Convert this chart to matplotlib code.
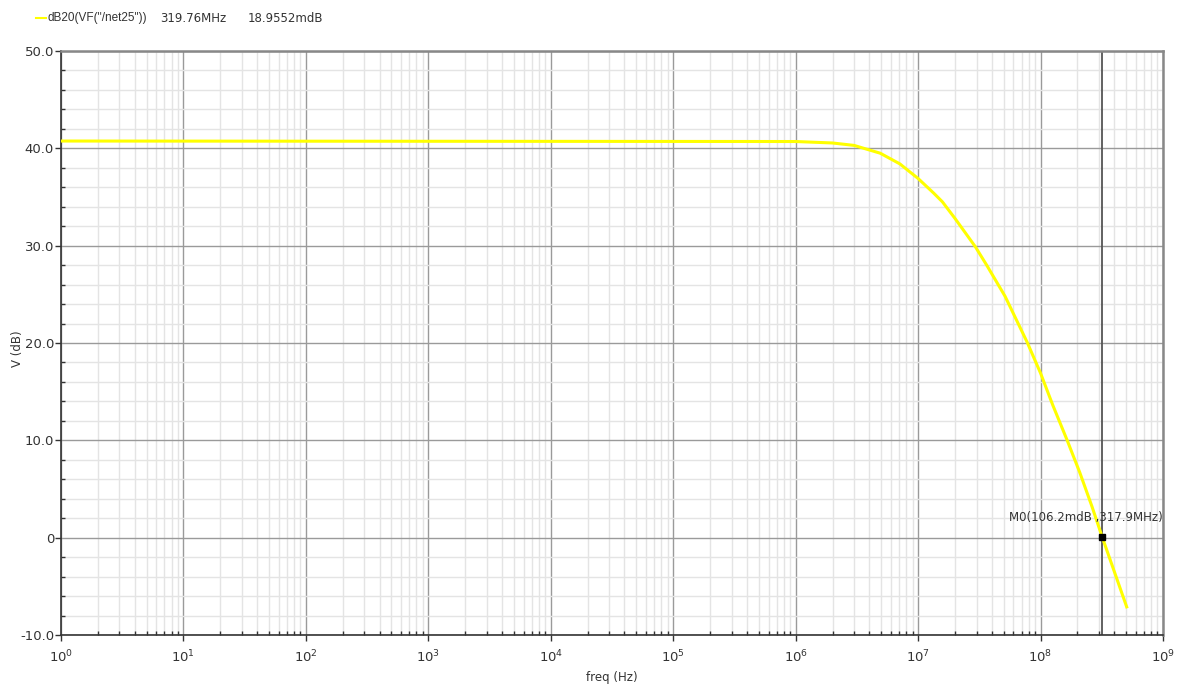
import matplotlib
matplotlib.use("Agg")
import matplotlib.pyplot as plt
from matplotlib.ticker import LogLocator, MultipleLocator, FixedLocator, FixedFormatter
import matplotlib.transforms as mtransforms

freq_hz = [1, 1e6, 2e6, 3e6, 4.9e6, 7.1e6, 1e7, 1.34e7, 1.58e7, 2e7, 2.93e7,
           3.63e7, 5.13e7, 7.76e7, 1e8, 1.26e8, 1.65e8, 2.09e8, 2.63e8, 3.179e8, 5.1e8]
gain_db = [40.75, 40.7, 40.55, 40.3, 39.5, 38.4, 36.9, 35.4, 34.5, 32.8, 29.9,
           28.0, 24.8, 20.1, 16.9, 13.6, 10.0, 6.7, 3.2, 0.106, -7.26]

marker_freq = 317.9e6
marker_db = 0.1062
marker_label = "M0(106.2mdB ,317.9MHz)"
trace_name = 'dB20(VF("/net25"))'
cursor_freq_text = "319.76MHz"
cursor_val_text = "18.9552mdB"

y_ticks = [-10, 0, 10, 20, 30, 40, 50]
y_tick_labels = ["-10.0", "0", "10.0", "20.0", "30.0", "40.0", "50.0"]

fig = plt.figure(figsize=(11.79, 6.86), dpi=100)
ax = fig.add_axes([61/1179, 1-635/686, (1163-61)/1179, (635-51)/686])

ax.plot(freq_hz, gain_db, color="#ffff00", lw=2.2, solid_joinstyle="round",
        solid_capstyle="butt", zorder=3)
ax.axvline(marker_freq, color="#555555", lw=1.3, zorder=2)
ax.plot([marker_freq], [marker_db], marker="s", color="black", ms=4, zorder=4)
trans = mtransforms.blended_transform_factory(ax.transAxes, ax.transData)
ax.text(1.0, 2.1, marker_label, transform=trans, ha="right", va="center",
        fontsize=8.5, color="#333333", zorder=5)

ax.set_xscale("log")
ax.set_xlim(1, 1e9)
ax.set_ylim(-10, 50)
ax.xaxis.set_major_locator(LogLocator(base=10, numticks=20))
ax.xaxis.set_minor_locator(LogLocator(base=10, subs=range(2, 10), numticks=200))
ax.yaxis.set_major_locator(FixedLocator(y_ticks))
ax.yaxis.set_major_formatter(FixedFormatter(y_tick_labels))
ax.yaxis.set_minor_locator(MultipleLocator(2))

ax.grid(which="major", color="#9a9a9a", lw=1.0, zorder=1)
ax.grid(which="minor", color="#e4e4e4", lw=1.0, zorder=0)
ax.set_axisbelow(True)

for s in ["top", "right"]:
    ax.spines[s].set_color("#888888")
    ax.spines[s].set_linewidth(1.8)
for s in ["left", "bottom"]:
    ax.spines[s].set_color("#333333")
    ax.spines[s].set_linewidth(1.2)

ax.tick_params(which="major", direction="out", length=4, width=1, color="#333333",
               labelsize=9.5, labelcolor="#333333", pad=1)
ax.tick_params(axis="x", which="major", pad=6)
ax.tick_params(which="minor", direction="in", length=3, width=1, color="#333333")

ax.set_xlabel("freq (Hz)", fontsize=8.5, color="#333333")
ax.xaxis.set_label_coords(0.5, -0.061)
ax.set_ylabel("V (dB)", fontsize=8.5, color="#333333")
ax.yaxis.set_label_coords(-0.034, 0.49)

fig.lines.append(plt.Line2D([36/1179, 46/1179], [1-18/686, 1-18/686], color="#ffff00",
                            lw=1.5, transform=fig.transFigure))
fig.text(47/1179, 1-18/686, trace_name, fontsize=8.5, color="#333333", va="center",
         family="Liberation Sans")
fig.text(160/1179, 1-18/686, cursor_freq_text, fontsize=8.5, color="#333333", va="center")
fig.text(248/1179, 1-18/686, cursor_val_text, fontsize=8.5, color="#333333", va="center")

fig.savefig("out.png", dpi=100, facecolor="white")
